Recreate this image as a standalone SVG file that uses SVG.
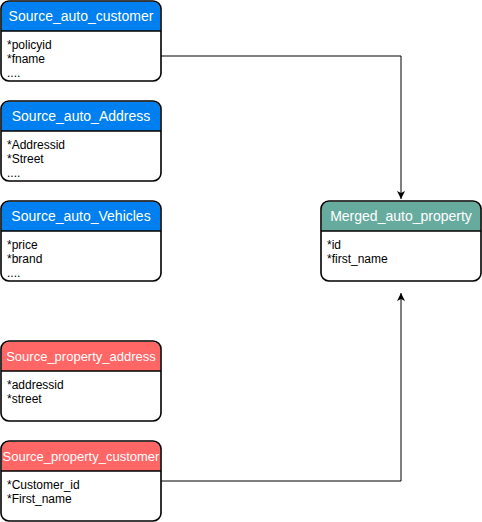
<svg xmlns="http://www.w3.org/2000/svg" width="482" height="522" viewBox="0 0 482 522">
<defs>
<style>
.frame{fill:none;stroke:#000000;stroke-width:1.6}
.sep{stroke:#000000;stroke-width:1.3}
.ttl{font-family:"Liberation Sans",Arial,sans-serif;font-size:14px;fill:#ffffff;text-anchor:middle}
.ttl.sm{font-size:13px}
.fld{font-family:"Liberation Sans",Arial,sans-serif;font-size:12px;fill:#000000}
.blue{fill:#0080F0}
.red{fill:#FF6666}
.green{fill:#67AB9F}
.edge{fill:none;stroke:#000000;stroke-width:1}
</style>
<marker id="arr" markerWidth="10" markerHeight="10" refX="8" refY="4" orient="auto" markerUnits="userSpaceOnUse">
<path d="M0,0 L8,4 L0,8 L2,4 Z" fill="#000000"/>
</marker>
</defs>
<g id="connectors">
<path class="edge" d="M161,56 H401 V199" marker-end="url(#arr)"/>
<path class="edge" d="M161,481 H401 V293" marker-end="url(#arr)"/>
</g>
<g id="source_auto_customer">
<rect x="1" y="1" width="160" height="80" rx="8" fill="#ffffff"/>
<path class="blue" d="M1.8,31 V9 A7.2,7.2 0 0 1 9,1.8 H153 A7.2,7.2 0 0 1 160.2,9 V31 Z"/>
<rect class="frame" x="1" y="1" width="160" height="80" rx="8"/>
<line class="sep" x1="1" y1="31" x2="161" y2="31"/>
<text class="ttl" x="81" y="21">Source_auto_customer</text>
<text class="fld" x="7" y="49">*policyid</text>
<text class="fld" x="7" y="63">*fname</text>
<text class="fld" x="7" y="77">....</text>
</g>
<g id="source_auto_address">
<path class="blue" d="M1.8,131 V109 A7.2,7.2 0 0 1 9,101.8 H153 A7.2,7.2 0 0 1 160.2,109 V131 Z"/>
<rect class="frame" x="1" y="101" width="160" height="80" rx="8"/>
<line class="sep" x1="1" y1="131" x2="161" y2="131"/>
<text class="ttl" x="81" y="121">Source_auto_Address</text>
<text class="fld" x="7" y="149">*Addressid</text>
<text class="fld" x="7" y="163">*Street</text>
<text class="fld" x="7" y="177">....</text>
</g>
<g id="source_auto_vehicles">
<path class="blue" d="M1.8,231 V209 A7.2,7.2 0 0 1 9,201.8 H153 A7.2,7.2 0 0 1 160.2,209 V231 Z"/>
<rect class="frame" x="1" y="201" width="160" height="80" rx="8"/>
<line class="sep" x1="1" y1="231" x2="161" y2="231"/>
<text class="ttl" x="81" y="221">Source_auto_Vehicles</text>
<text class="fld" x="7" y="249">*price</text>
<text class="fld" x="7" y="263">*brand</text>
<text class="fld" x="7" y="277">....</text>
</g>
<g id="merged_auto_property">
<path class="green" d="M321.8,231 V209 A7.2,7.2 0 0 1 329,201.8 H473 A7.2,7.2 0 0 1 480.2,209 V231 Z"/>
<rect class="frame" x="321" y="201" width="160" height="80" rx="8"/>
<line class="sep" x1="321" y1="231" x2="481" y2="231"/>
<text class="ttl" x="401" y="221">Merged_auto_property</text>
<text class="fld" x="327" y="249">*id</text>
<text class="fld" x="327" y="263">*first_name</text>
</g>
<g id="source_property_address">
<path class="red" d="M1.8,371 V349 A7.2,7.2 0 0 1 9,341.8 H153 A7.2,7.2 0 0 1 160.2,349 V371 Z"/>
<rect class="frame" x="1" y="341" width="160" height="80" rx="8"/>
<line class="sep" x1="1" y1="371" x2="161" y2="371"/>
<text class="ttl sm" x="81" y="361">Source_property_address</text>
<text class="fld" x="7" y="389">*addressid</text>
<text class="fld" x="7" y="403">*street</text>
</g>
<g id="source_property_customer">
<path class="red" d="M1.8,471 V449 A7.2,7.2 0 0 1 9,441.8 H153 A7.2,7.2 0 0 1 160.2,449 V471 Z"/>
<rect class="frame" x="1" y="441" width="160" height="80" rx="8"/>
<line class="sep" x1="1" y1="471" x2="161" y2="471"/>
<text class="ttl sm" x="81" y="461">Source_property_customer</text>
<text class="fld" x="7" y="489">*Customer_id</text>
<text class="fld" x="7" y="503">*First_name</text>
</g>
</svg>
